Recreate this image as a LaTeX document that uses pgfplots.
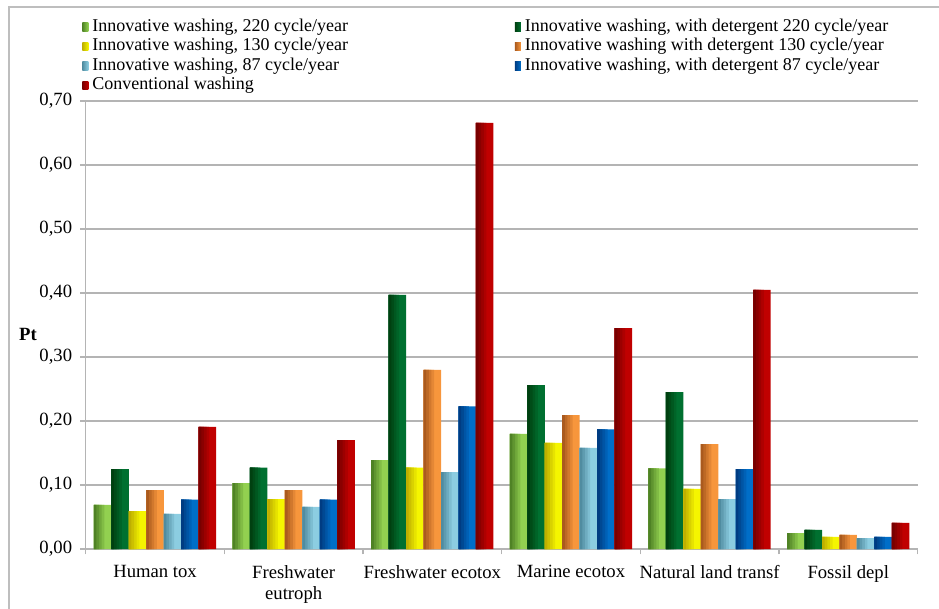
\documentclass[border=0pt]{standalone}
\usepackage{fontspec}
\setmainfont{Liberation Serif}
\usepackage{pgfplots}
\usepackage{pgfplotstable}
\pgfplotsset{compat=1.18}

% left / right shades of each series
\definecolor{ga}{RGB}{79,130,37}   \definecolor{gb}{RGB}{146,208,80}
\definecolor{dga}{RGB}{0,64,16}    \definecolor{dgb}{RGB}{0,112,48}
\definecolor{ya}{RGB}{190,175,0}   \definecolor{yb}{RGB}{245,245,0}
\definecolor{oa}{RGB}{170,90,30}   \definecolor{ob}{RGB}{247,150,60}
\definecolor{lba}{RGB}{80,140,160} \definecolor{lbb}{RGB}{140,205,225}
\definecolor{ba}{RGB}{0,60,130}    \definecolor{bb}{RGB}{0,110,200}
\definecolor{ra}{RGB}{120,0,0}     \definecolor{rb}{RGB}{192,0,0}
\definecolor{framegray}{RGB}{190,190,190}
\definecolor{gridgray}{RGB}{180,180,180}

\pgfplotstableread{
x  w220   d220   w130   d130   w87    d87    conv
0  0.069  0.125  0.059  0.092  0.055  0.077  0.191
1  0.103  0.127  0.078  0.092  0.066  0.077  0.170
2  0.139  0.397  0.127  0.280  0.120  0.223  0.666
3  0.180  0.256  0.166  0.209  0.158  0.187  0.345
4  0.126  0.245  0.094  0.164  0.078  0.125  0.405
5  0.025  0.030  0.019  0.022  0.017  0.019  0.041
}\impacts

% one series as a pseudo gradient: full bar in the light colour,
% then narrower strips from the left edge, darker each time
% #1 index in group, #2 column, #3 dark colour, #4 light colour, #5 legend text
\newcommand{\shadedbar}[5]{%
  \addplot[draw=none, fill=#4, forget plot, bar width=0.126,
    bar shift={(#1-3)*0.126}] table[x=x, y=#2] {\impacts};
  \addplot[draw=none, fill=#3!25!#4, forget plot, bar width=0.0756,
    bar shift={(#1-3)*0.126-0.063+0.0378}] table[x=x, y=#2] {\impacts};
  \addplot[draw=none, fill=#3!50!#4, forget plot, bar width=0.0567,
    bar shift={(#1-3)*0.126-0.063+0.02835}] table[x=x, y=#2] {\impacts};
  \addplot[draw=none, fill=#3!75!#4, forget plot, bar width=0.0378,
    bar shift={(#1-3)*0.126-0.063+0.0189}] table[x=x, y=#2] {\impacts};
  \addplot[draw=none, fill=#3, forget plot, bar width=0.0189,
    bar shift={(#1-3)*0.126-0.063+0.00945}] table[x=x, y=#2] {\impacts};
  \addlegendimage{left color=#3, right color=#4}
  \addlegendentry{#5}
}

\begin{document}
\begin{tikzpicture}
\useasboundingbox (-64.275pt,-44.25pt) rectangle (639.975pt,411.75pt);
\begin{axis}[
    scale only axis,
    width=623.9pt, height=336pt,
    ybar,
    xmin=-0.5, xmax=5.5,
    ymin=0, ymax=0.7,
    ytick={0,0.1,0.2,0.3,0.4,0.5,0.6,0.7},
    scaled y ticks=false,
    /pgf/number format/fixed,
    /pgf/number format/fixed zerofill,
    /pgf/number format/precision=2,
    /pgf/number format/use comma,
    /pgf/number format/assume math mode=true,
    axis lines=left,
    axis line style={-, draw=gridgray, line width=0.9pt},
    tick align=outside,
    major tick length=4pt, minor tick length=4pt,
    tick style={draw=gridgray, line width=0.9pt},
    major x tick style={draw=none},
    xtick={0,1,2,3,4,5},
    minor xtick={-0.5,0.5,1.5,2.5,3.5,4.5,5.5},
    xticklabels={Human tox, {Freshwater\\eutroph}, Freshwater ecotox, Marine ecotox, Natural land transf, Fossil depl},
    xticklabel style={align=center, font=\fontsize{14}{16}\selectfont, inner sep=0pt, yshift=-8pt},
    yticklabel style={font=\fontsize{14}{16}\selectfont, inner sep=0pt, xshift=-6pt},
    ymajorgrids,
    grid style={draw=gridgray, line width=0.9pt},
    ylabel={\textbf{Pt}},
    ylabel style={rotate=-90, at={(axis description cs:-0.0694,0.478)}, anchor=center, font=\fontsize{14}{16}\selectfont},
    legend columns=2,
    legend cell align=left,
    legend image code/.code={\path[#1, draw=none] (0pt,-3.25pt) rectangle (4.5pt,3.25pt);},
    legend style={draw=none, fill=none, inner sep=0pt,
        at={(axis description cs:-0.00445,1.186)}, anchor=north west,
        font=\fontsize{13.5}{15}\selectfont,
        nodes={inner xsep=3pt, inner ysep=0.5pt, text height=9.5pt, text depth=3pt},
        row sep=1.1pt,
        /tikz/every even column/.append style={column sep=122pt}},
]
\shadedbar{0}{w220}{ga}{gb}{Innovative washing, 220 cycle/year}
\shadedbar{1}{d220}{dga}{dgb}{Innovative washing, with detergent 220 cycle/year}
\shadedbar{2}{w130}{ya}{yb}{Innovative washing, 130 cycle/year}
\shadedbar{3}{d130}{oa}{ob}{Innovative washing with detergent 130 cycle/year}
\shadedbar{4}{w87}{lba}{lbb}{Innovative washing, 87 cycle/year}
\shadedbar{5}{d87}{ba}{bb}{Innovative washing, with detergent 87 cycle/year}
\shadedbar{6}{conv}{ra}{rb}{Conventional washing}
\end{axis}
\draw[framegray, line width=1.2pt] (-57.5pt,-60pt) -- (-57.5pt,406.5pt) -- (660pt,406.5pt);
\end{tikzpicture}
\end{document}
